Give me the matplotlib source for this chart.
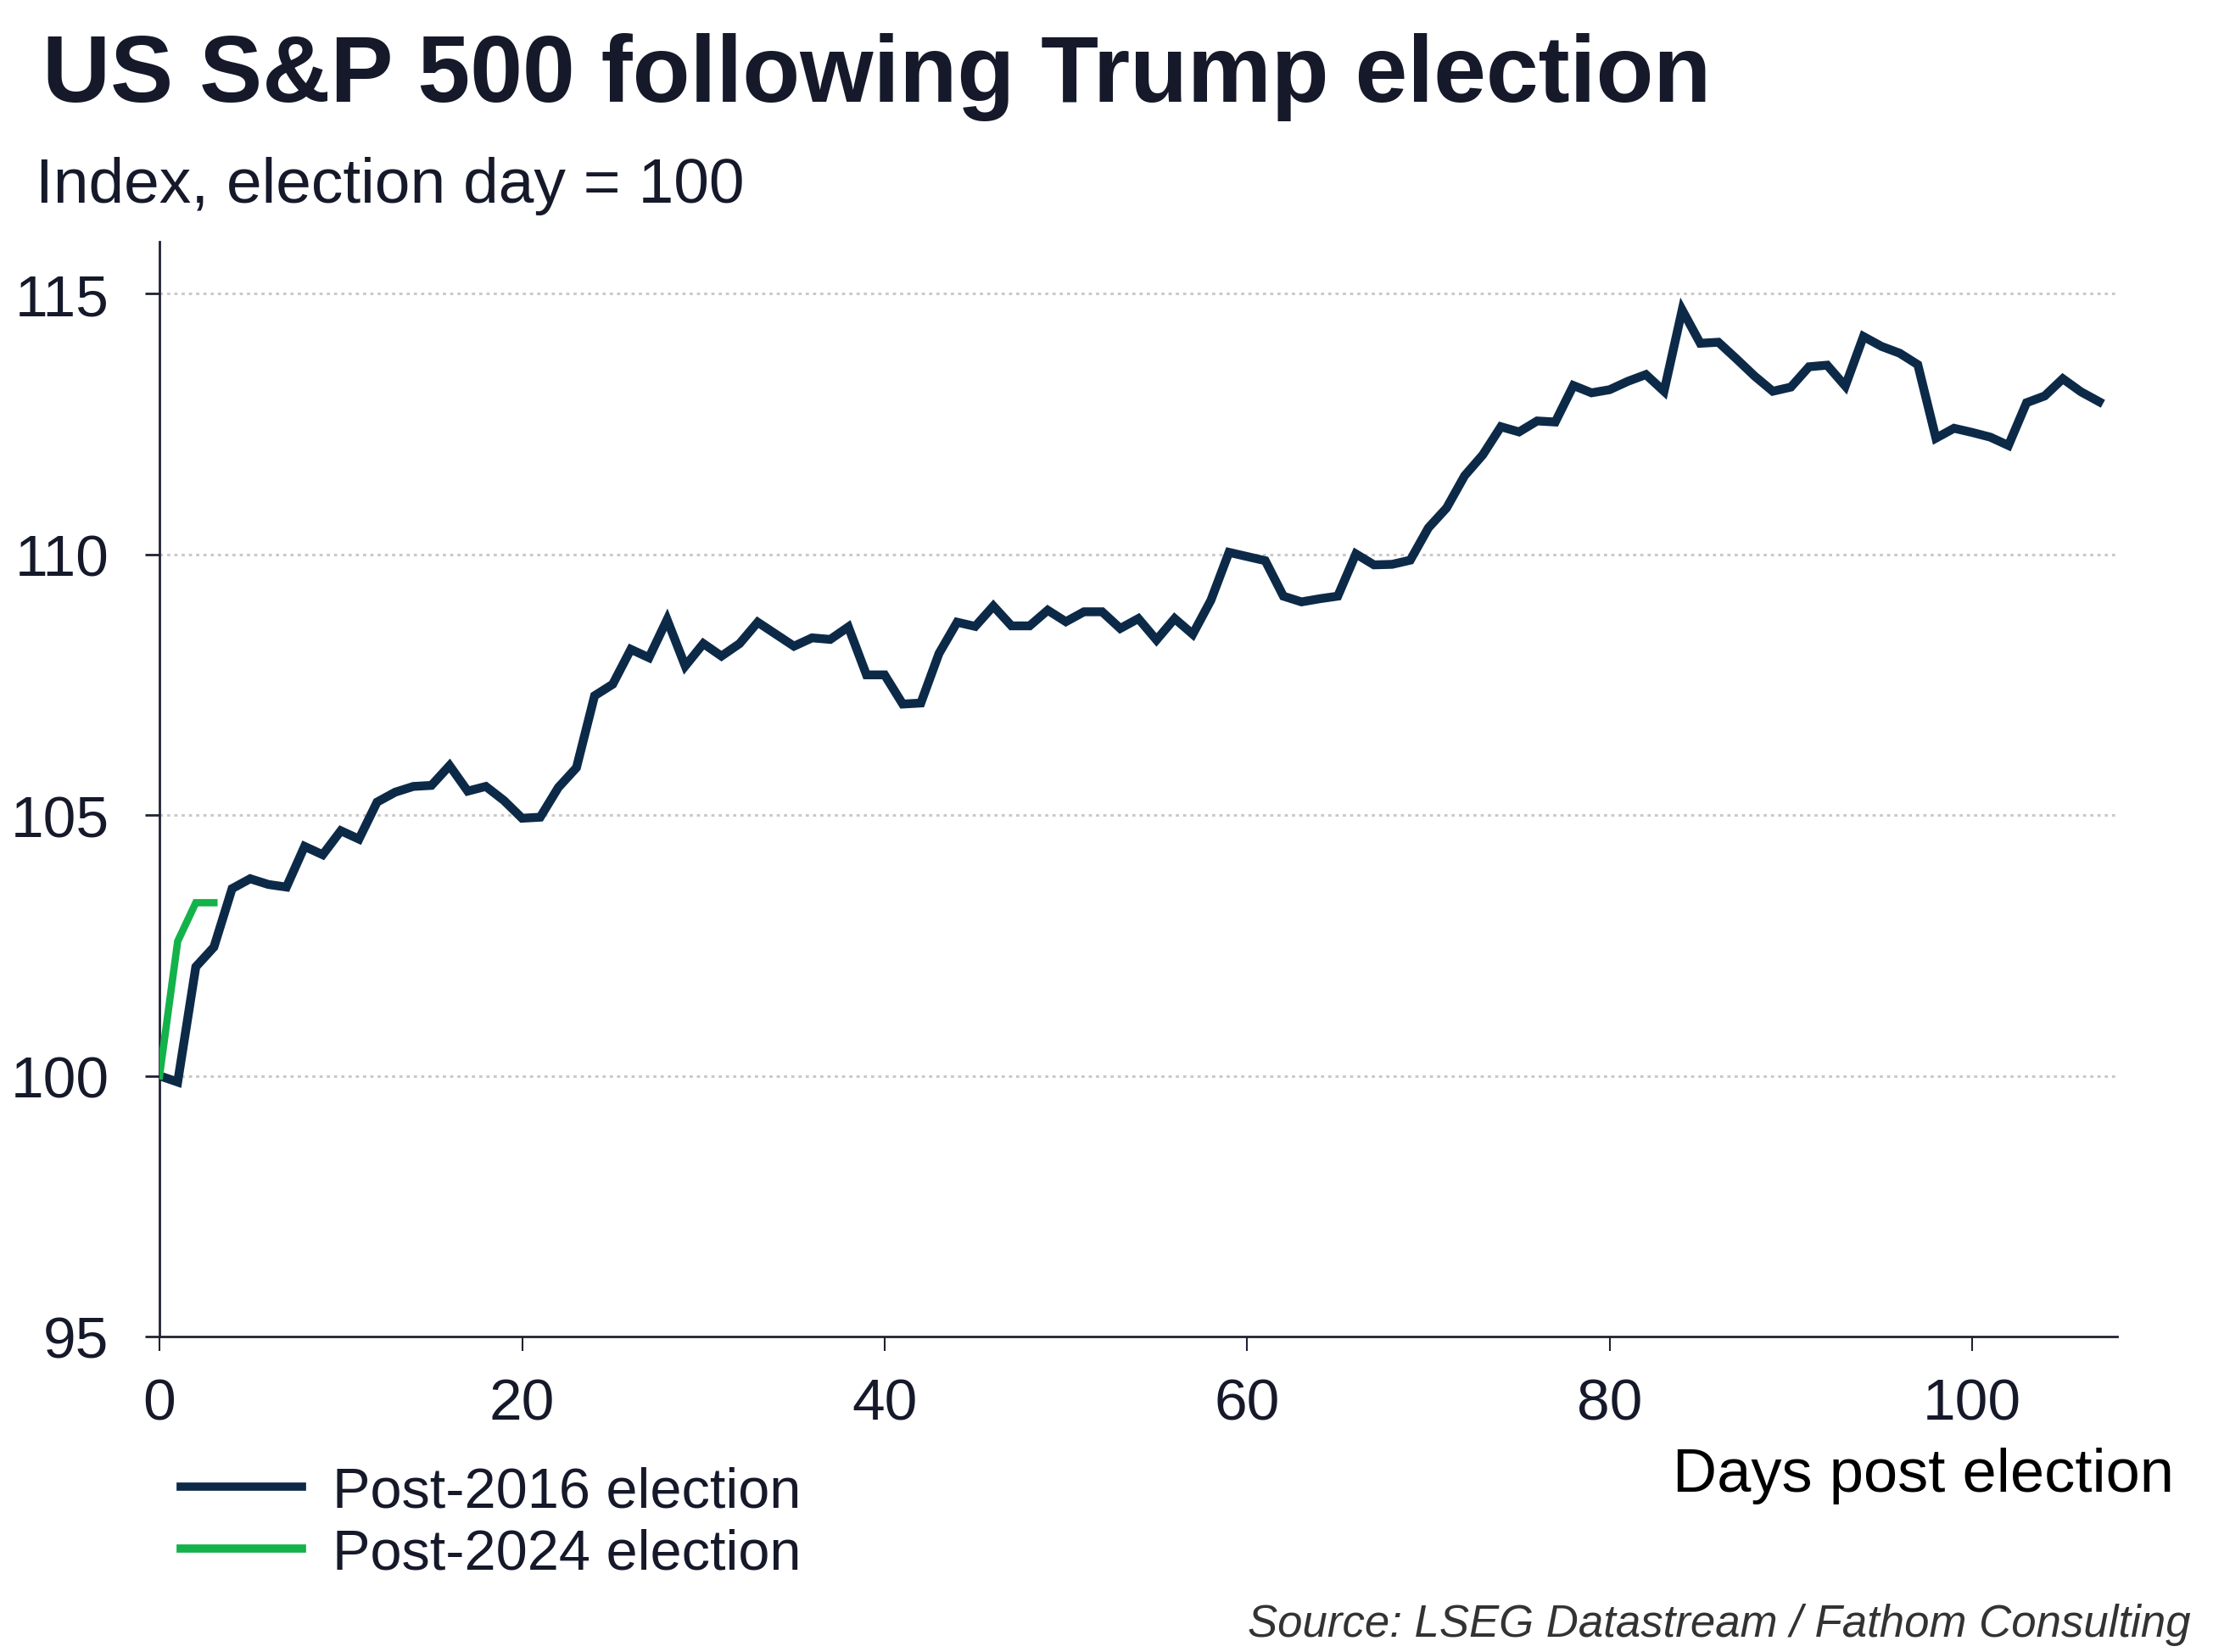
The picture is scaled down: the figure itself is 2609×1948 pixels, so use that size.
import matplotlib
matplotlib.use("Agg")
import matplotlib.pyplot as plt

plt.rcParams['font.family'] = ['Liberation Sans', 'DejaVu Sans']

# ---- data ----
days_2016 = list(range(0, 108))
post_2016 = [
    100.00, 99.88, 102.09, 102.47, 103.59, 103.78, 103.67, 103.62, 104.40, 104.24,
    104.70, 104.54, 105.25, 105.44, 105.55, 105.57, 105.95, 105.46, 105.55, 105.28,
    104.94, 104.96, 105.53, 105.91, 107.29, 107.51, 108.18, 108.02, 108.75, 107.86,
    108.29, 108.05, 108.29, 108.70, 108.47, 108.24, 108.40, 108.37, 108.61, 107.69,
    107.69, 107.13, 107.15, 108.10, 108.70, 108.62, 109.01, 108.63, 108.63, 108.93,
    108.71, 108.90, 108.90, 108.58, 108.77, 108.36, 108.77, 108.47, 109.12, 110.04,
    109.96, 109.88, 109.20, 109.09, 109.15, 109.20, 110.01, 109.80, 109.81, 109.89,
    110.51, 110.89, 111.51, 111.91, 112.45, 112.35, 112.56, 112.54, 113.24, 113.10,
    113.16, 113.32, 113.45, 113.13, 114.69, 114.05, 114.07, 113.75, 113.42, 113.13,
    113.21, 113.60, 113.63, 113.23, 114.18, 113.99, 113.86, 113.64, 112.23, 112.42,
    112.34, 112.25, 112.09, 112.91, 113.04, 113.37, 113.12, 112.93,
]
days_2024 = [0, 1, 2, 3]
post_2024 = [100.00, 102.58, 103.32, 103.32]

x_ticks = [0, 20, 40, 60, 80, 100]
y_ticks = [95, 100, 105, 110, 115]

NAVY = '#0c2a48'
GREEN = '#14b24a'
TXT = '#15192a'

fig = plt.figure(figsize=(26.09, 19.49), dpi=100)
ax = fig.add_axes([0.0721, 0.1909, 0.9567 - 0.0721, 0.8533 - 0.1909])

ax.plot(days_2016, post_2016, color=NAVY, lw=7.5, solid_joinstyle='miter',
        label='Post-2016 election', zorder=3)
ax.plot(days_2024, post_2024, color=GREEN, lw=6.2, solid_joinstyle='miter',
        label='Post-2024 election', zorder=4)

ax.set_xlim(0, 108)
ax.set_ylim(95, 116)
ax.set_xticks(x_ticks)
ax.set_yticks(y_ticks)

for yv in y_ticks[1:]:
    ax.axhline(yv, color='#c9c9c9', lw=2.2, ls=(0, (1.2, 1.6)), zorder=1)

for s in ['top', 'right']:
    ax.spines[s].set_visible(False)
for s in ['left', 'bottom']:
    ax.spines[s].set_color('#1f2233')
    ax.spines[s].set_linewidth(2.0)

ax.tick_params(axis='y', direction='out', length=12, width=2, color='#1f2233',
               labelsize=50, labelcolor=TXT, pad=31)
ax.tick_params(axis='x', direction='out', length=12, width=1.5, color='#1f2233',
               labelsize=50, labelcolor=TXT, pad=22)

fig.text(0.019, 0.9384, 'US S&P 500 following Trump election', fontsize=80,
         fontweight='bold', color=TXT, ha='left', va='baseline')
fig.text(0.016, 0.8775, 'Index, election day = 100', fontsize=54,
         color=TXT, ha='left', va='baseline')

fig.text(0.9824, 0.0975, 'Days post election', fontsize=52, color='black',
         ha='right', va='baseline')

leg = ax.legend(loc='upper left', bbox_to_anchor=(0.0815, 0.1128),
                bbox_transform=fig.transFigure, frameon=False, fontsize=48,
                handlelength=2.15, handletextpad=0.54, labelspacing=0.17,
                borderpad=0, borderaxespad=0)
for t in leg.get_texts():
    t.set_color(TXT)
for h in leg.legend_handles:
    h.set_linewidth(7.0)

fig.text(0.990, 0.0097, 'Source: LSEG Datastream / Fathom Consulting',
         fontsize=38, style='italic', color='#333333', ha='right', va='baseline')

fig.savefig('out.png', dpi=100, facecolor='white')
